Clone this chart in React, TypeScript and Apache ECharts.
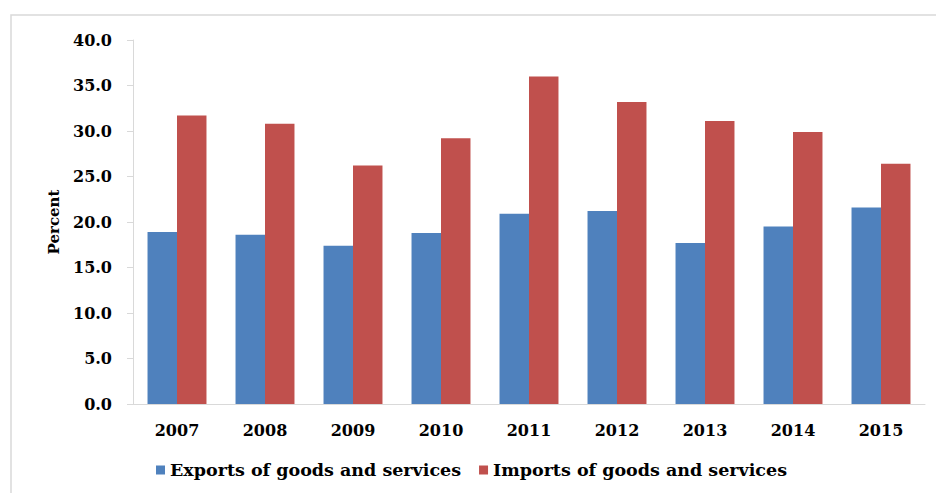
import React, { useEffect, useRef } from "react";
import * as echarts from "echarts";

const years = ["2007", "2008", "2009", "2010", "2011", "2012", "2013", "2014", "2015"];
const exportsPct = [18.9, 18.6, 17.4, 18.8, 20.9, 21.2, 17.7, 19.5, 21.6];
const importsPct = [31.7, 30.8, 26.2, 29.2, 36.0, 33.2, 31.1, 29.9, 26.4];
const seriesNames = ["Exports of goods and services", "Imports of goods and services"];

const FONT = "DejaVu Serif";

export default function App() {
  const ref = useRef<HTMLDivElement>(null);
  useEffect(() => {
    if (!ref.current) return;
    const chart = echarts.init(ref.current, undefined, { renderer: "svg" });
    chart.setOption({
      animation: false,
      backgroundColor: "#ffffff",
      graphic: [
        {
          type: "rect",
          shape: { x: 11, y: 15, width: 940, height: 500 },
          style: { fill: "none", stroke: "#d9d9d9", lineWidth: 1.5 },
          silent: true,
        },
      ],
      grid: { left: 133, right: 11, top: 40, bottom: 89 },
      legend: {
        left: 151,
        top: 456,
        itemWidth: 9,
        itemHeight: 9,
        itemGap: 18,
        icon: "rect",
        textStyle: { fontFamily: FONT, fontWeight: "bold", fontSize: 17.5, color: "#000" },
        data: seriesNames,
      },
      xAxis: {
        type: "category",
        data: years,
        axisLine: { lineStyle: { color: "#d9d9d9" } },
        axisTick: { show: false },
        axisLabel: { fontFamily: FONT, fontWeight: "bold", fontSize: 16, color: "#000", margin: 18 },
      },
      yAxis: {
        type: "value",
        min: 0,
        max: 40,
        interval: 5,
        name: "Percent",
        nameLocation: "middle",
        nameGap: 72,
        nameRotate: 90,
        nameTextStyle: { fontFamily: FONT, fontWeight: "bold", fontSize: 15, color: "#000" },
        axisLine: { show: true, lineStyle: { color: "#d9d9d9" } },
        axisTick: { show: true, length: 6, lineStyle: { color: "#d9d9d9" } },
        splitLine: { show: false },
        axisLabel: {
          fontFamily: FONT,
          fontWeight: "bold",
          fontSize: 16,
          color: "#000",
          margin: 21,
          formatter: (v: number) => v.toFixed(1),
        },
      },
      series: [
        {
          name: seriesNames[0],
          type: "bar",
          data: exportsPct,
          itemStyle: { color: "#4F81BD" },
          barGap: "0%",
          barCategoryGap: "33%",
        },
        {
          name: seriesNames[1],
          type: "bar",
          data: importsPct,
          itemStyle: { color: "#C0504D" },
          barGap: "0%",
          barCategoryGap: "33%",
        },
      ],
    });
    return () => chart.dispose();
  }, []);
  return (
    <div
      ref={ref}
      style={{ position: "fixed", left: 0, top: 0, width: 936, height: 493 }}
    />
  );
}
